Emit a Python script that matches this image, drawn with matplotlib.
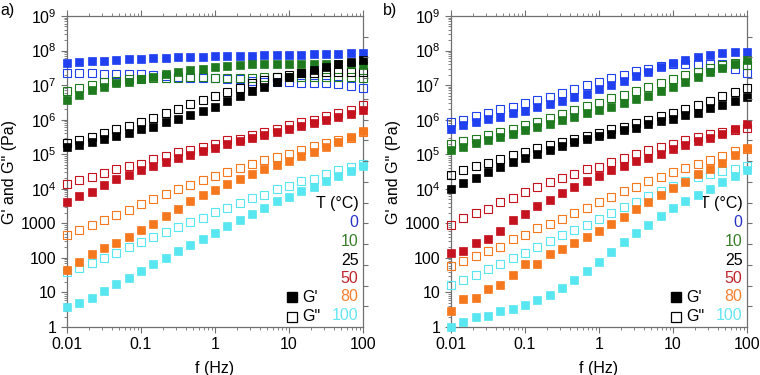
import matplotlib
matplotlib.use('Agg')
import matplotlib.pyplot as plt
from matplotlib.ticker import LogLocator, NullFormatter

plt.rcParams['font.family'] = ['Liberation Sans', 'DejaVu Sans']
plt.rcParams['mathtext.fontset'] = 'custom'
plt.rcParams['mathtext.rm'] = 'Liberation Sans'

freq = [0.01, 0.0147, 0.0215, 0.0316, 0.0464, 0.0681, 0.1, 0.147, 0.215, 0.316,
        0.464, 0.681, 1.0, 1.47, 2.15, 3.16, 4.64, 6.81, 10.0, 14.7, 21.5, 31.6,
        46.4, 68.1, 100.0]

temps = ['0', '10', '25', '50', '80', '100']
colors = ['#2040f0', '#1f7a1f', '#000000', '#c4121e', '#f5781e', '#58e6f0']
text_colors = ['#2a35c8', '#3a7d2a', '#000000', '#c0262c', '#f08030', '#66e6f2']

# panel a) G' and G'' per temperature
a_Gp_0 = [4.4e7, 4.6e7, 4.85e7, 5.1e7, 5.3e7, 5.55e7, 5.8e7, 5.9e7, 6.2e7, 6.5e7, 6.6e7, 6.6e7, 6.8e7,
          6.9e7, 7.1e7, 7.1e7, 7.2e7, 7.2e7, 7.4e7, 7.6e7, 7.7e7, 7.7e7, 7.9e7, 8.3e7, 8.6e7]
a_Gpp_0 = [2.3e7, 2.2e7, 2.2e7, 2.1e7, 2.1e7, 2.05e7, 2.05e7, 2.0e7, 1.85e7, 1.75e7, 1.65e7, 1.6e7, 1.6e7,
           1.55e7, 1.5e7, 1.35e7, 1.25e7, 1.2e7, 1.2e7, 1.17e7, 1.17e7, 1.12e7, 1.07e7, 9.5e6, 8.4e6]
a_Gp_10 = [3.8e6, 5.2e6, 7.0e6, 8.9e6, 1.17e7, 1.25e7, 1.46e7, 1.74e7, 2.04e7, 2.4e7, 2.7e7, 3.0e7, 3.4e7,
           3.6e7, 3.8e7, 4.0e7, 4.1e7, 4.1e7, 4.2e7, 4.1e7, 4.1e7, 4.1e7, 4.1e7, 4.1e7, 3.8e7]
a_Gpp_10 = [6.8e6, 8.4e6, 1.0e7, 1.2e7, 1.33e7, 1.46e7, 1.5e7, 1.6e7, 1.63e7, 1.63e7, 1.67e7, 1.67e7, 1.63e7,
            1.63e7, 1.63e7, 1.63e7, 1.67e7, 1.74e7, 1.67e7, 1.67e7, 1.67e7, 1.67e7, 1.67e7, 1.67e7, 1.56e7]
a_Gp_25 = [1.63e5, 1.9e5, 2.33e5, 2.78e5, 3.4e5, 4.15e5, 5.2e5, 6.3e5, 8.5e5, 1.03e6, 1.35e6, 1.84e6, 2.4e6,
           3.36e6, 4.8e6, 6.7e6, 9.1e6, 1.25e7, 1.74e7, 2.18e7, 2.72e7, 3.4e7, 4.06e7, 4.74e7, 5.3e7]
a_Gpp_25 = [2.1e5, 2.5e5, 3.2e5, 4.0e5, 5.2e5, 6.6e5, 8.6e5, 1.15e6, 1.6e6, 2.1e6, 2.8e6, 3.7e6, 4.8e6,
            6.4e6, 8.4e6, 1.12e7, 1.4e7, 1.74e7, 1.95e7, 2.2e7, 2.3e7, 2.4e7, 2.4e7, 2.4e7, 2.4e7]
a_Gp_50 = [4.2e3, 6.2e3, 8.1e3, 1.26e4, 1.97e4, 2.5e4, 3.6e4, 4.6e4, 6.0e4, 7.6e4, 9.8e4, 1.22e5, 1.56e5,
           1.95e5, 2.4e5, 3.0e5, 3.6e5, 4.4e5, 5.5e5, 6.5e5, 8.1e5, 9.7e5, 1.2e6, 1.5e6, 1.9e6]
a_Gpp_50 = [1.4e4, 1.75e4, 2.2e4, 2.9e4, 3.7e4, 4.5e4, 5.1e4, 7.2e4, 8.7e4, 1.17e5, 1.36e5, 1.63e5, 1.95e5,
            2.5e5, 2.8e5, 3.7e5, 4.4e5, 5.5e5, 6.9e5, 8.6e5, 1.0e6, 1.26e6, 1.6e6, 1.9e6, 2.6e6]
a_Gp_80 = [46, 76, 126, 188, 270, 390, 630, 980, 1600, 2660, 4340, 6500, 9500,
           1.35e4, 1.97e4, 2.63e4, 3.8e4, 5.0e4, 6.5e4, 8.9e4, 1.19e5, 1.63e5, 2.3e5, 3.2e5, 4.7e5]
a_Gpp_80 = [470, 655, 875, 1280, 1780, 2500, 3550, 5200, 7100, 9700, 1.32e4, 1.76e4, 2.35e4,
            3.1e4, 4.1e4, 5.1e4, 6.7e4, 8.4e4, 1.0e5, 1.36e5, 1.7e5, 2.1e5, 2.5e5, 3.0e5, 4.4e5]
a_Gp_100 = [3.8, 5.0, 7.0, 10.7, 17.4, 27, 42, 66, 101, 154, 235, 351, 536,
            818, 1250, 1900, 2840, 4340, 5900, 8500, 1.13e4, 1.65e4, 2.3e4, 3.3e4, 4.5e4]
a_Gpp_100 = [40, 51, 72, 101, 141, 206, 288, 400, 560, 770, 1090, 1460, 2130,
             2840, 3970, 5400, 6800, 9700, 1.21e4, 1.65e4, 1.97e4, 2.6e4, 3.4e4, 4.3e4, 5.1e4]

# panel b)
b_Gp_0 = [5.55e5, 6.8e5, 8.5e5, 1.03e6, 1.23e6, 1.54e6, 1.84e6, 2.25e6, 2.8e6, 3.4e6, 4.4e6, 5.7e6, 7.5e6,
          1.0e7, 1.31e7, 1.82e7, 2.43e7, 3.25e7, 4.24e7, 5.3e7, 6.6e7, 7.4e7, 8.6e7, 8.8e7, 8.8e7]
b_Gpp_0 = [8.6e5, 1.0e6, 1.26e6, 1.6e6, 2.0e6, 2.4e6, 3.0e6, 3.7e6, 4.6e6, 6.0e6, 7.5e6, 9.8e6, 1.25e7,
           1.6e7, 2.0e7, 2.5e7, 3.0e7, 3.6e7, 4.0e7, 4.0e7, 4.1e7, 4.1e7, 4.1e7, 2.9e7, 2.3e7]
b_Gp_10 = [1.31e5, 1.63e5, 2.13e5, 2.6e5, 3.18e5, 3.97e5, 5.07e5, 6.34e5, 7.74e5, 9.67e5, 1.18e6, 1.54e6, 1.88e6,
           2.35e6, 3.07e6, 3.84e6, 4.9e6, 6.7e6, 8.9e6, 1.25e7, 1.74e7, 2.33e7, 3.1e7, 4.06e7, 5.3e7]
b_Gpp_10 = [1.95e5, 2.38e5, 2.84e5, 3.55e5, 4.34e5, 5.55e5, 6.78e5, 8.85e5, 1.1e6, 1.44e6, 1.88e6, 2.46e6, 3.07e6,
            4.1e6, 5.13e6, 6.84e6, 8.9e6, 1.17e7, 1.46e7, 1.95e7, 2.38e7, 3.04e7, 3.8e7, 4.44e7, 3.8e7]
b_Gp_25 = [9.7e3, 1.48e4, 2.1e4, 3.08e4, 4.3e4, 6.0e4, 8.0e4, 1.04e5, 1.36e5, 1.71e5, 2.28e5, 2.72e5, 3.4e5,
           3.97e5, 4.96e5, 5.93e5, 7.25e5, 9.06e5, 1.08e6, 1.35e6, 1.61e6, 2.11e6, 2.63e6, 3.43e6, 4.59e6]
b_Gpp_25 = [2.5e4, 3.4e4, 4.5e4, 5.7e4, 7.5e4, 9.4e4, 1.17e5, 1.5e5, 1.8e5, 2.3e5, 2.7e5, 3.4e5, 4.0e5,
            5.2e5, 6.2e5, 8.1e5, 9.7e5, 1.26e6, 1.6e6, 2.1e6, 2.6e6, 3.5e6, 4.8e6, 6.4e6, 8.0e6]
b_Gp_50 = [141, 158, 269, 359, 586, 1220, 1900, 3110, 4740, 7570, 1.1e4, 1.65e4, 2.3e4,
           3.5e4, 4.5e4, 6.3e4, 8.0e4, 1.04e5, 1.43e5, 1.82e5, 2.38e5, 2.97e5, 3.8e5, 5.2e5, 7.7e5]
b_Gpp_50 = [914, 1430, 1990, 2660, 4150, 5550, 8100, 1.13e4, 1.58e4, 2.11e4, 2.75e4, 3.67e4, 4.3e4,
            6.0e4, 8.0e4, 1.0e5, 1.31e5, 1.63e5, 2.04e5, 2.66e5, 3.18e5, 3.8e5, 4.44e5, 5.0e5, 5.9e5]
b_Gp_80 = [3.0, 6.3, 6.9, 12.8, 16.3, 33, 66, 66, 126, 176, 263, 393, 586,
           957, 1560, 2550, 4150, 6780, 1.06e4, 1.58e4, 2.75e4, 3.7e4, 5.6e4, 9.4e4, 1.56e5]
b_Gpp_80 = [60, 81, 113, 154, 211, 344, 470, 730, 980, 1360, 2040, 2840, 4150,
            5800, 8450, 1.16e4, 1.65e4, 2.25e4, 3.07e4, 4.0e4, 5.1e4, 7.0e4, 9.1e4, 1.2e5, 1.4e5]
b_Gp_100 = [1.0, 1.38, 2.0, 2.06, 2.81, 3.36, 4.39, 5.86, 8.55, 13.6, 23.3, 40.6, 75.7,
            147, 288, 536, 914, 1600, 2780, 4340, 6780, 1.01e4, 1.58e4, 2.35e4, 3.44e4]
b_Gpp_100 = [16, 23.3, 32.5, 46.4, 66.3, 98.8, 141, 206, 301, 449, 655, 914, 1360,
             1990, 2970, 4150, 6200, 8650, 1.21e4, 1.65e4, 2.2e4, 2.75e4, 3.3e4, 3.8e4, 4.5e4]

a_Gp = [a_Gp_0, a_Gp_10, a_Gp_25, a_Gp_50, a_Gp_80, a_Gp_100]
a_Gpp = [a_Gpp_0, a_Gpp_10, a_Gpp_25, a_Gpp_50, a_Gpp_80, a_Gpp_100]
b_Gp = [b_Gp_0, b_Gp_10, b_Gp_25, b_Gp_50, b_Gp_80, b_Gp_100]
b_Gpp = [b_Gpp_0, b_Gpp_10, b_Gpp_25, b_Gpp_50, b_Gpp_80, b_Gpp_100]

ytick_vals = [1, 10, 100, 1000, 1e4, 1e5, 1e6, 1e7, 1e8, 1e9]
ytick_labels = ['1', '10', '100', '1000'] + [r'$\mathregular{10^{%d}}$' % k for k in range(4, 10)]
xtick_vals = [0.01, 0.1, 1, 10, 100]
xtick_labels = ['0.01', '0.1', '1', '10', '100']

spine_col = '#707070'
fs = 11.5

fig = plt.figure(figsize=(7.6, 3.75), dpi=100)
ax_a = fig.add_axes([67/760, 48/375, 296/760, 311/375])
ax_b = fig.add_axes([451/760, 48/375, 296/760, 311/375])


def draw_panel(ax, gp_list, gpp_list, tag, tag_x):
    for gp, gpp, c in zip(gp_list, gpp_list, colors):
        ax.plot(freq, gpp, 's', ms=5.2, mfc='none', mec=c, mew=0.8, clip_on=False, zorder=3)
        ax.plot(freq, gp, 's', ms=5.4, mfc=c, mec=c, mew=0.5, clip_on=False, zorder=4)

    ax.set_xscale('log')
    ax.set_yscale('log')
    ax.set_xlim(0.01, 100)
    ax.set_ylim(1, 1e9)
    ax.set_yticks(ytick_vals, ytick_labels)
    ax.set_xticks(xtick_vals, xtick_labels)
    ax.yaxis.set_minor_locator(LogLocator(base=10, subs=range(2, 10), numticks=20))
    ax.xaxis.set_minor_locator(LogLocator(base=10, subs=range(2, 10), numticks=20))
    ax.yaxis.set_minor_formatter(NullFormatter())
    ax.xaxis.set_minor_formatter(NullFormatter())
    ax.tick_params(axis='x', which='both', top=True, bottom=True, direction='out', colors=spine_col,
                   labelcolor='black', labelsize=fs)
    ax.tick_params(axis='y', which='both', left=True, right=False, direction='out', colors=spine_col,
                   labelcolor='black', labelsize=fs)
    ax.tick_params(which='major', length=4, width=0.8)
    ax.tick_params(which='minor', length=2.5, width=0.6)
    for s in ax.spines.values():
        s.set_color(spine_col)
        s.set_linewidth(0.9)

    # right axis: unlabelled evenly spaced ticks
    ax2 = ax.twinx()
    ax2.set_ylim(0, 15)
    ax2.set_yticks(range(1, 15))
    ax2.tick_params(axis='y', direction='out', length=3.5, width=0.8, colors=spine_col, labelright=False)
    for s in ax2.spines.values():
        s.set_visible(False)

    ax.set_xlabel('f (Hz)', fontsize=fs)
    ax.xaxis.set_label_coords(0.5, -0.108)
    ax.set_ylabel('G\' and G" (Pa)', fontsize=fs)
    ax.yaxis.set_label_coords(-0.17, 0.5)

    # temperature legend
    ax.text(0.985, 0.397, 'T (\u00b0C)', transform=ax.transAxes, ha='right', va='center', fontsize=fs)
    ys = [0.336, 0.276, 0.213, 0.156, 0.097, 0.036]
    for t, y, tc in zip(temps, ys, text_colors):
        ax.text(0.985, y, t, transform=ax.transAxes, ha='right', va='center', fontsize=fs, color=tc)
    ax.plot([0.759], [0.095], 's', ms=7.5, color='black', transform=ax.transAxes, clip_on=False)
    ax.plot([0.759], [0.033], 's', ms=7.5, mfc='none', mec='black', mew=0.9,
            transform=ax.transAxes, clip_on=False)
    ax.text(0.795, 0.095, "G'", transform=ax.transAxes, ha='left', va='center', fontsize=fs)
    ax.text(0.795, 0.033, 'G"', transform=ax.transAxes, ha='left', va='center', fontsize=fs)

    fig.text(tag_x, 0.972, tag, ha='left', va='center', fontsize=fs)


draw_panel(ax_a, a_Gp, a_Gpp, 'a)', 0.0)
draw_panel(ax_b, b_Gp, b_Gpp, 'b)', 383/760)

fig.savefig('out.png', dpi=100)
